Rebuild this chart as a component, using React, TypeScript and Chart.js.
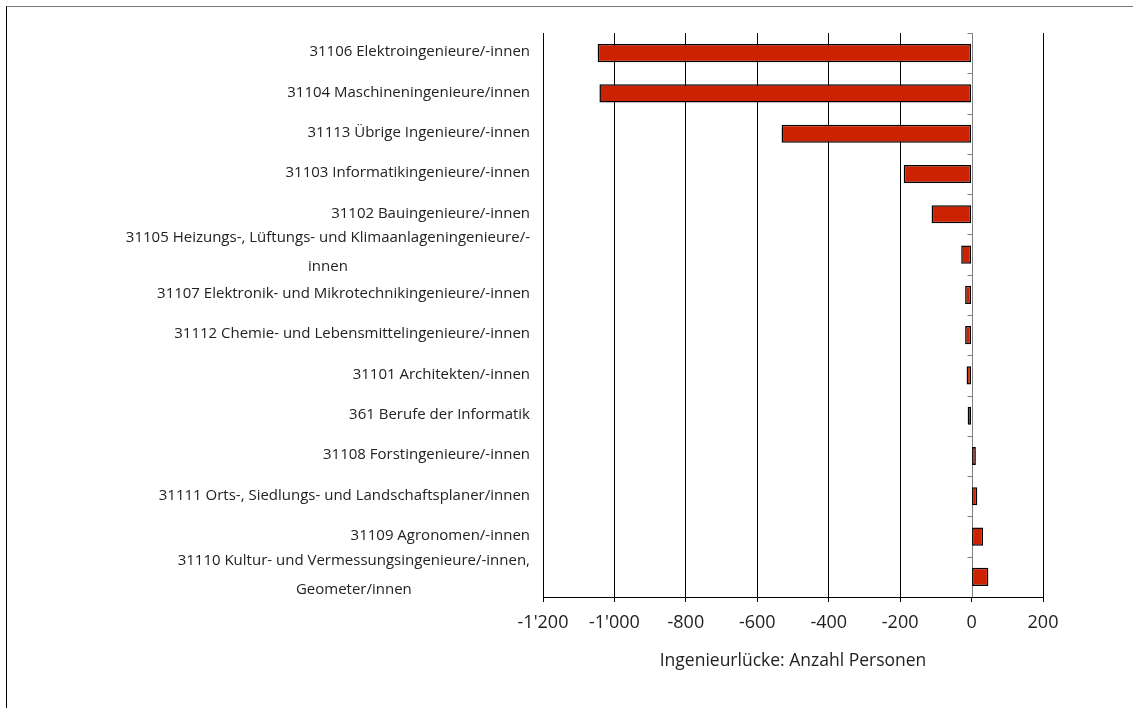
import { useEffect, useRef } from 'react';
import { Chart, registerables } from 'chart.js';

Chart.register(...registerables);

const categories: (string | string[])[] = [
  '31106 Elektroingenieure/-innen',
  '31104 Maschineningenieure/innen',
  '31113 Übrige Ingenieure/-innen',
  '31103 Informatikingenieure/-innen',
  '31102 Bauingenieure/-innen',
  ['31105 Heizungs-, Lüftungs- und Klimaanlageningenieure/-', 'innen'],
  '31107 Elektronik- und Mikrotechnikingenieure/-innen',
  '31112 Chemie- und Lebensmittelingenieure/-innen',
  '31101 Architekten/-innen',
  '361 Berufe der Informatik',
  '31108 Forstingenieure/-innen',
  '31111 Orts-, Siedlungs- und Landschaftsplaner/innen',
  '31109 Agronomen/-innen',
  ['31110 Kultur- und Vermessungsingenieure/-innen,', 'Geometer/innen'],
];

const gapValues = [-1047, -1042, -532, -190, -112, -29, -18, -18, -14, -11, 12, 16, 32, 47];

const xMin = -1200;
const xMax = 200;
const xStep = 200;
const axisTitle = 'Ingenieurlücke: Anzahl Personen';

const FONT_FAMILY = '"Open Sans", "DejaVu Sans", sans-serif';
const TEXT_COLOR = '#222222';
const BAR_COLOR = '#CC2200';

const fmt = (v: number) => {
  const s = Math.abs(v).toString();
  const withSep = s.replace(/\B(?=(\d{3})+(?!\d))/g, "'");
  return (v < 0 ? '-' : '') + withSep;
};

const zeroAxisPlugin = {
  id: 'zeroAxis',
  beforeDatasetsDraw(chart: any) {
    const { ctx, chartArea } = chart;
    const x = chart.scales.x;
    const y = chart.scales.y;
    const x0 = Math.round(x.getPixelForValue(0)) + 0.5;
    ctx.save();
    ctx.strokeStyle = '#808080';
    ctx.lineWidth = 1;
    ctx.beginPath();
    ctx.moveTo(x0, chartArea.top);
    ctx.lineTo(x0, chartArea.bottom);
    ctx.stroke();
    const n = chart.data.labels.length;
    const bounds: number[] = [chartArea.top];
    for (let i = 1; i < n; i++) {
      bounds.push((y.getPixelForValue(i - 1) + y.getPixelForValue(i)) / 2);
    }
    ctx.beginPath();
    bounds.forEach((b) => {
      const yy = Math.round(b) + 0.5;
      ctx.moveTo(x0 - 5, yy);
      ctx.lineTo(x0, yy);
    });
    ctx.stroke();
    ctx.restore();
  },
};

const categoryLabelPlugin = {
  id: 'categoryLabels',
  afterDraw(chart: any) {
    const { ctx, chartArea } = chart;
    const y = chart.scales.y;
    const right = chartArea.left - 13;
    ctx.save();
    ctx.font = `15px ${FONT_FAMILY}`;
    ctx.fillStyle = TEXT_COLOR;
    ctx.textBaseline = 'middle';
    (chart.data.labels as (string | string[])[]).forEach((lab, i) => {
      const lines = Array.isArray(lab) ? lab : [lab];
      const cy = y.getPixelForValue(i);
      if (lines.length === 1) {
        ctx.textAlign = 'right';
        ctx.fillText(lines[0], right, cy - 1);
      } else {
        const w = Math.max(...lines.map((l) => ctx.measureText(l).width));
        const cx = right - w / 2;
        ctx.textAlign = 'center';
        const lh = 29;
        const top = cy - 2 - (lh * (lines.length - 1)) / 2;
        lines.forEach((l, k) => ctx.fillText(l, cx, top + k * lh));
      }
    });
    ctx.restore();
  },
};

export default function App() {
  const canvasRef = useRef<HTMLCanvasElement | null>(null);

  useEffect(() => {
    const canvas = canvasRef.current;
    if (!canvas) return;
    const chart = new Chart(canvas, {
      type: 'bar',
      data: {
        labels: categories,
        datasets: [
          {
            data: gapValues,
            backgroundColor: BAR_COLOR,
            borderColor: '#000000',
            borderWidth: 1.5,
            borderSkipped: false,
            categoryPercentage: 1,
            barPercentage: 0.45,
          },
        ],
      },
      options: {
        indexAxis: 'y',
        responsive: false,
        animation: false,
        devicePixelRatio: 1,
        layout: { padding: { left: 543, right: 90, top: 33, bottom: 0 } },
        plugins: {
          legend: { display: false },
          tooltip: { enabled: false },
        },
        scales: {
          y: {
            type: 'category',
            display: false,
          },
          x: {
            type: 'linear',
            position: 'bottom',
            min: xMin,
            max: xMax,
            afterFit: (scale: any) => {
              scale.height = 111;
            },
            ticks: {
              stepSize: xStep,
              padding: 10,
              color: TEXT_COLOR,
              font: { family: FONT_FAMILY, size: 18 },
              maxRotation: 0,
              autoSkip: false,
              callback: (v: any) => fmt(Number(v)),
            },
            grid: {
              color: (ctx: any) => (ctx.tick && ctx.tick.value === 0 ? 'rgba(0,0,0,0)' : '#000000'),
              tickColor: '#000000',
              tickLength: 5,
              lineWidth: 1,
            },
            border: { display: true, color: '#000000', width: 1 },
            title: {
              display: true,
              text: axisTitle,
              color: TEXT_COLOR,
              font: { family: FONT_FAMILY, size: 17.5 },
              padding: { top: 0, bottom: 36 },
            },
          },
        },
      },
      plugins: [zeroAxisPlugin, categoryLabelPlugin],
    } as any);
    return () => chart.destroy();
  }, []);

  return (
    <div>
      <div
        style={{
          position: 'fixed',
          left: 6,
          top: 6,
          width: 1300,
          height: 900,
          borderLeft: '1px solid #000',
          borderTop: '1px solid #777',
          boxSizing: 'border-box',
        }}
      />
      <canvas
        ref={canvasRef}
        width={1133}
        height={708}
        style={{ position: 'fixed', left: 0, top: 0, width: 1133, height: 708 }}
      />
    </div>
  );
}
